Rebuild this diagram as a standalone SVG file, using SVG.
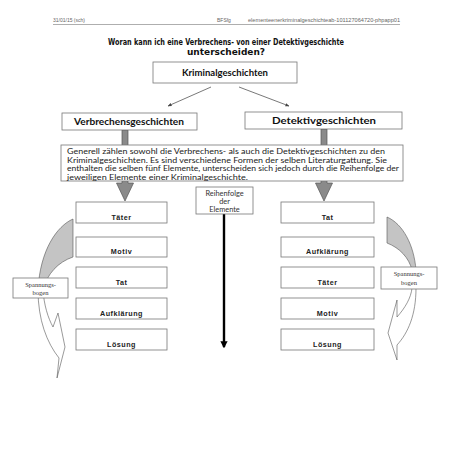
<svg xmlns="http://www.w3.org/2000/svg" width="453" height="453" viewBox="0 0 453 453">
<style>
.hdr{font-family:"Liberation Sans",Arial,sans-serif;font-size:5px;fill:#666}
.title{font-family:"DejaVu Sans",Verdana,sans-serif;font-weight:bold;font-size:9px;fill:#111;text-anchor:middle}
.box{fill:#fff;stroke:#777;stroke-width:0.8}
.hd{font-family:Lato,"Open Sans",sans-serif;font-weight:bold;font-size:10px;fill:#111;text-anchor:middle}
.para{font-family:Lato,"Open Sans",sans-serif;font-size:7.8px;fill:#222}
.el{font-family:"Liberation Sans",Arial,sans-serif;font-weight:bold;font-size:7.2px;letter-spacing:0.5px;fill:#222;text-anchor:middle}
.small{font-family:Lato,"Open Sans",sans-serif;font-size:7.4px;fill:#333;text-anchor:middle}
.serif{font-family:"Liberation Serif","Times New Roman",serif;font-size:6.5px;fill:#333;text-anchor:middle}
.thin{stroke:#555;stroke-width:0.8;fill:none}
.block{fill:#8a8a8a;stroke:#555;stroke-width:0.7}
.bow{stroke:#555;stroke-width:0.6}
</style>
<defs>
<marker id="ah" viewBox="0 0 10 10" refX="9" refY="5" markerWidth="5" markerHeight="5" orient="auto">
<path d="M0,1 L10,5 L0,9 Z" fill="#444"/>
</marker>
<marker id="ahb" viewBox="0 0 10 10" refX="8" refY="5" markerWidth="3" markerHeight="3" orient="auto">
<path d="M0,0 L10,5 L0,10 Z" fill="#000"/>
</marker>
</defs>

<g id="header">
<text class="hdr" x="53" y="22">31/01/15 (sch)</text>
<text class="hdr" x="217" y="22">BFSfg</text>
<text class="hdr" x="248" y="22" textLength="152" lengthAdjust="spacingAndGlyphs">elementeenerkriminalgeschichteab-101127064720-phpapp01</text>
<line x1="53" y1="24.5" x2="400" y2="24.5" stroke="#777" stroke-width="0.6"/>
</g>

<g id="title">
<text class="title" x="226" y="45" textLength="236" lengthAdjust="spacingAndGlyphs">Woran kann ich eine Verbrechens- von einer Detektivgeschichte</text>
<text class="title" x="226" y="55">unterscheiden?</text>
</g>

<g id="connectors">
<line class="thin" x1="211" y1="87" x2="168" y2="106" marker-end="url(#ah)"/>
<line class="thin" x1="239" y1="87" x2="289" y2="106" marker-end="url(#ah)"/>
<path class="block" d="M122,130 L128,130 L128,183 L133.5,183 L125,201 L116.5,183 L122,183 Z"/>
<path class="block" d="M321,129 L327,129 L327,183 L332.5,183 L324,201 L315.5,183 L321,183 Z"/>
<line x1="224" y1="214" x2="224" y2="347" stroke="#000" stroke-width="2.4" marker-end="url(#ahb)"/>
</g>

<g id="kriminal">
<rect class="box" x="153" y="62" width="144" height="21"/>
<text class="hd" x="225" y="75.5" textLength="86" lengthAdjust="spacingAndGlyphs">Kriminalgeschichten</text>
</g>

<g id="verbrechen">
<rect class="box" x="62" y="113" width="135" height="17"/>
<text class="hd" x="129" y="125" textLength="110" lengthAdjust="spacingAndGlyphs">Verbrechensgeschichten</text>
</g>

<g id="detektiv">
<rect class="box" x="245" y="112" width="157" height="17"/>
<text class="hd" x="324" y="124" textLength="104" lengthAdjust="spacingAndGlyphs">Detektivgeschichten</text>
</g>

<g id="text-box">
<rect class="box" x="61" y="145" width="342" height="36"/>
<text class="para" x="67" y="154" textLength="318" lengthAdjust="spacingAndGlyphs">Generell zählen sowohl die Verbrechens- als auch die Detektivgeschichten zu den</text>
<text class="para" x="67" y="162.5" textLength="320" lengthAdjust="spacingAndGlyphs">Kriminalgeschichten. Es sind verschiedene Formen der selben Literaturgattung. Sie</text>
<text class="para" x="67" y="171" textLength="332" lengthAdjust="spacingAndGlyphs">enthalten die selben fünf Elemente, unterscheiden sich jedoch durch die Reihenfolge der</text>
<text class="para" x="67" y="179.5" textLength="181" lengthAdjust="spacingAndGlyphs">jeweiligen Elemente einer Kriminalgeschichte.</text>
</g>

<g id="reihenfolge">
<rect class="box" x="196" y="187" width="57" height="27"/>
<text class="small" x="224.5" y="195.5">Reihenfolge</text>
<text class="small" x="224.5" y="203.5">der</text>
<text class="small" x="224.5" y="211.5">Elemente</text>
</g>

<g id="left-elements">
<rect class="box" x="76" y="202" width="91" height="21"/>
<text class="el" x="121.5" y="219.5">Täter</text>
<rect class="box" x="76" y="237" width="91" height="20"/>
<text class="el" x="121.5" y="253.5">Motiv</text>
<rect class="box" x="76" y="267" width="91" height="21"/>
<text class="el" x="121.5" y="284.5">Tat</text>
<rect class="box" x="76" y="298" width="91" height="21"/>
<text class="el" x="121.5" y="315.5">Aufklärung</text>
<rect class="box" x="76" y="329" width="91" height="21"/>
<text class="el" x="121.5" y="346.5">Lösung</text>
</g>

<g id="right-elements">
<rect class="box" x="281" y="202" width="93" height="21"/>
<text class="el" x="327.5" y="219.5">Tat</text>
<rect class="box" x="281" y="237" width="93" height="20"/>
<text class="el" x="327.5" y="253.5">Aufklärung</text>
<rect class="box" x="281" y="267" width="93" height="21"/>
<text class="el" x="327.5" y="284.5">Täter</text>
<rect class="box" x="281" y="298" width="93" height="21"/>
<text class="el" x="327.5" y="315.5">Motiv</text>
<rect class="box" x="281" y="329" width="93" height="21"/>
<text class="el" x="327.5" y="346.5">Lösung</text>
</g>

<g id="spannung-left">
<path class="bow" fill="#c4c4c4" d="M73,219 C57,226 40,250 38,290 L43,290 C47,274 58,262 73,257 Z"/>
<path class="bow" fill="#fff" d="M38,290 C38,320 47,343 59,358 L57,378 L65,347 L58,313 L53,327 C48,318 44,305 43,290 Z"/>
<rect class="box" x="13" y="278" width="55" height="20"/>
<text class="serif" x="40.5" y="286.5">Spannungs-</text>
<text class="serif" x="40.5" y="295">bogen</text>
</g>

<g id="spannung-right">
<path class="bow" fill="#c4c4c4" d="M387,217 C403,224 414,245 416,270 L412,270 C409,258 400,248 387,243 Z"/>
<path class="bow" fill="#fff" d="M416,288 C416,315 408,333 397,345 L397,360 L388,333 L397,300 L397,317 C405,308 411,298 412,288 Z"/>
<rect class="box" x="381" y="267" width="56" height="22"/>
<text class="serif" x="409" y="276">Spannungs-</text>
<text class="serif" x="409" y="285">bogen</text>
</g>
</svg>
